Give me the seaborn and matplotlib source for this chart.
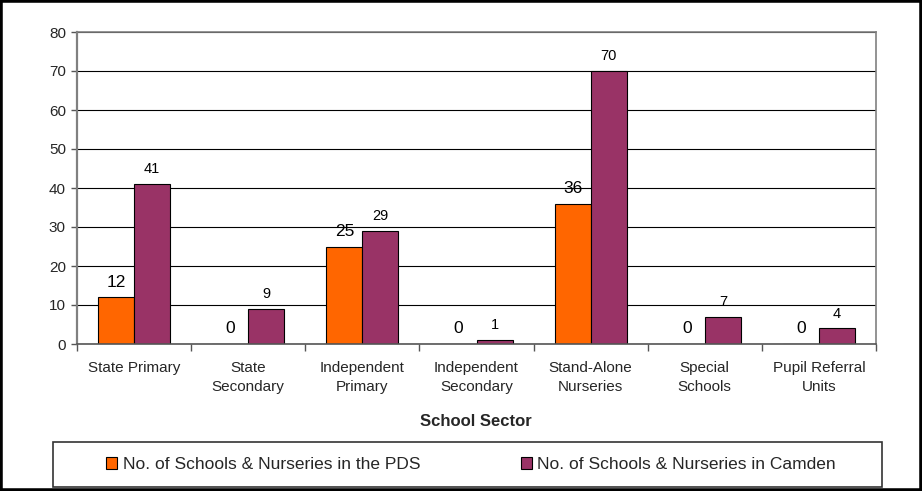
import matplotlib
matplotlib.use("Agg")
import matplotlib.pyplot as plt
from matplotlib.patches import Rectangle
import seaborn as sns
import pandas as pd

# School sectors and counts
sectors = [
    "State Primary",
    "State\nSecondary",
    "Independent\nPrimary",
    "Independent\nSecondary",
    "Stand-Alone\nNurseries",
    "Special\nSchools",
    "Pupil Referral\nUnits",
]
pds_counts = [12, 0, 25, 0, 36, 0, 0]
camden_counts = [41, 9, 29, 1, 70, 7, 4]
series_names = [
    "No. of Schools & Nurseries in the PDS",
    "No. of Schools & Nurseries in Camden",
]
y_ticks = [0, 10, 20, 30, 40, 50, 60, 70, 80]

colors = ["#FF6600", "#993366"]

df = pd.DataFrame({
    "Sector": sectors * 2,
    "Count": pds_counts + camden_counts,
    "Series": [series_names[0]] * len(sectors) + [series_names[1]] * len(sectors),
})

sns.set_theme(style="white")
plt.rcParams["font.family"] = ["Liberation Sans", "DejaVu Sans"]

fig = plt.figure(figsize=(9.22, 4.91), dpi=100)
ax = fig.add_axes([77 / 922, 1 - 344 / 491, (876 - 77) / 922, (344 - 32) / 491])

sns.barplot(
    data=df, x="Sector", y="Count", hue="Series", order=sectors,
    hue_order=series_names, palette=colors, width=0.632, gap=0,
    edgecolor="black", linewidth=0.8, saturation=1, ax=ax, legend=True,
)

# Value labels above each bar
for cont, fs in zip(ax.containers, [12.5, 10.5]):
    ax.bar_label(cont, fmt="%d", padding=5.5, fontsize=fs, color="black")

# Axes styling
ax.set_ylim(0, 80)
ax.set_yticks(y_ticks)
ax.set_xlim(-0.5, len(sectors) - 0.5)
ax.yaxis.grid(True, color="black", linewidth=0.8)
ax.set_axisbelow(True)
for side in ["top", "right", "left", "bottom"]:
    ax.spines[side].set_visible(True)
    ax.spines[side].set_color("#808080")
    ax.spines[side].set_linewidth(1.2)
ax.spines["left"].set_linewidth(1.6)
ax.spines["bottom"].set_color("#555555")

ax.tick_params(axis="y", which="major", direction="out", length=4, width=1,
               color="#555555", pad=4, labelsize=11, left=True)
ax.set_xticks(range(len(sectors)))
ax.set_xticklabels(sectors, fontsize=11, linespacing=1.5)
ax.tick_params(axis="x", which="major", length=0, pad=12)
ax.set_xticks([i - 0.5 for i in range(len(sectors) + 1)], minor=True)
ax.tick_params(axis="x", which="minor", direction="out", length=5, width=1,
               color="#555555", bottom=True)
ax.set_xlabel("")
ax.set_ylabel("")

fig.text(476 / 922, 1 - 421 / 491, "School Sector", ha="center", va="center",
         fontsize=12, fontweight="bold")

# Legend at the bottom inside its own framed box
ax.get_legend().remove()
handles = [Rectangle((0, 0), 1, 1, facecolor=c, edgecolor="black", linewidth=0.8)
           for c in colors]
fig.legend(handles, series_names, loc="center", ncol=2, frameon=False,
           bbox_to_anchor=(471 / 922, 1 - 464.5 / 491), fontsize=12.5,
           handlelength=0.65, handleheight=0.65, handletextpad=0.3,
           columnspacing=5.8)
fig.patches.append(Rectangle((53 / 922, 1 - 487 / 491), (882 - 53) / 922,
                             (487 - 442) / 491, transform=fig.transFigure,
                             fill=False, edgecolor="#333333", linewidth=1.2))

# Outer frame around the whole chart
fig.patches.append(Rectangle((0, 0), 1, 1, transform=fig.transFigure,
                             fill=False, edgecolor="black", linewidth=4))

fig.savefig("out.png", dpi=100)
